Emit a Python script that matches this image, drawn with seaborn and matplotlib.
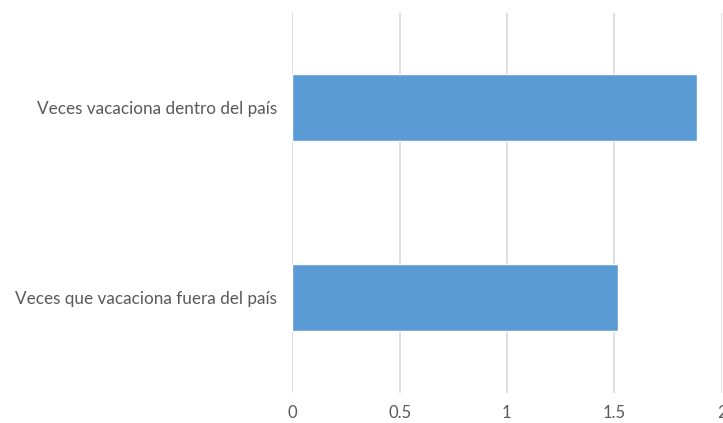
import matplotlib
matplotlib.use("Agg")
import matplotlib.pyplot as plt
import seaborn as sns
import pandas as pd

categorias = ["Veces vacaciona dentro del país", "Veces que vacaciona fuera del país"]
valores = [1.884, 1.517]
ticks = [0, 0.5, 1, 1.5, 2]
tick_labels = ["0", "0.5", "1", "1.5", "2"]

df = pd.DataFrame({"categoria": categorias, "valor": valores})

sns.set_theme(style="white")
plt.rcParams["font.family"] = ["Lato", "DejaVu Sans"]

fig = plt.figure(figsize=(7.23, 4.23), dpi=100)
ax = fig.add_axes([292.3 / 723, 30.3 / 423, (721.5 - 292.3) / 723, 380 / 423])

sns.barplot(data=df, x="valor", y="categoria", orient="h", color="#5b9bd5",
            saturation=1, width=0.35, ax=ax, zorder=3)

ax.set_xlim(0, 2)
ax.set_ylim(1.5, -0.5)
ax.set_xticks(ticks)
ax.set_xticklabels(tick_labels)
ax.xaxis.grid(True, color="#d9d9d9", linewidth=1.2, zorder=0)
ax.set_axisbelow(True)
ax.set_xlabel("")
ax.set_ylabel("")
for s in ax.spines.values():
    s.set_visible(False)
ax.tick_params(axis="x", length=0, pad=9, labelsize=12, labelcolor="#595959")
ax.tick_params(axis="y", length=0, pad=11, labelsize=12.3, labelcolor="#595959")

fig.savefig("out.png", dpi=100)
